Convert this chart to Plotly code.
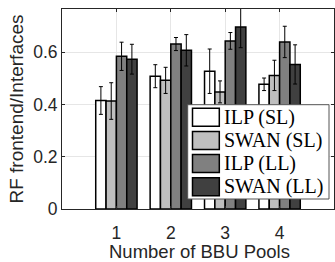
import plotly.graph_objects as go

pools = [1, 2, 3, 4]
series_names = ["ILP (SL)", "SWAN (SL)", "ILP (LL)", "SWAN (LL)"]
series_colors = ["#ffffff", "#bfbfbf", "#808080", "#404040"]
values = [
    [0.415, 0.508, 0.527, 0.477],
    [0.413, 0.492, 0.448, 0.511],
    [0.584, 0.631, 0.643, 0.639],
    [0.573, 0.607, 0.696, 0.553],
]
errors = [
    [0.053, 0.044, 0.085, 0.024],
    [0.070, 0.050, 0.042, 0.058],
    [0.054, 0.025, 0.032, 0.060],
    [0.057, 0.060, 0.079, 0.075],
]
y_ticks = [0, 0.2, 0.4, 0.6]
y_tick_labels = ["0", "0.2", "0.4", "0.6"]
x_title = "Number of BBU Pools"
y_title = "RF frontend/Interfaces"

W, H = 335, 262
ML, MR, MT, MB = 62, 1, 9, 53
PW, PH = W - ML - MR, H - MT - MB

def px(x):
    return (x - ML) / PW

def py(y):
    return (H - MB - y) / PH

fig = go.Figure()
for name, color, vals, errs in zip(series_names, series_colors, values, errors):
    fig.add_trace(go.Bar(
        x=pools, y=vals, name=name,
        marker=dict(color=color, line=dict(color="#000000", width=1.5)),
        error_y=dict(type="data", array=errs, color="#000000", thickness=1, width=2),
        showlegend=False,
    ))

# manual legend (box + swatches + labels)
shapes = [dict(type="rect", xref="paper", yref="paper",
               x0=px(187.7), x1=px(329), y0=py(199), y1=py(104.7),
               fillcolor="#ffffff", line=dict(color="#555555", width=1), layer="above")]
annotations = []
row0, dy = 117.2, 23.2
for i, (name, color) in enumerate(zip(series_names, series_colors)):
    cy = row0 + i * dy
    shapes.append(dict(type="rect", xref="paper", yref="paper",
                       x0=px(192.5), x1=px(219.3), y0=py(cy + 9), y1=py(cy - 9),
                       fillcolor=color, line=dict(color="#000000", width=1.5), layer="above"))
    annotations.append(dict(xref="paper", yref="paper", x=px(221.5), y=py(cy),
                            text=name, showarrow=False, xanchor="left", yanchor="middle",
                            font=dict(family="Liberation Serif", size=20, color="#000000")))

# x-axis title placed below the tick labels
annotations.append(dict(xref="paper", yref="paper", x=px(199.2), y=py(251.5),
                        text=x_title, showarrow=False, xanchor="center", yanchor="middle",
                        font=dict(family="Liberation Sans, Arial", size=18.5, color="#262626")))

axis_common = dict(
    showline=True, linecolor="#262626", linewidth=1, mirror="ticks",
    ticks="inside", ticklen=3, tickcolor="#262626",
    showgrid=True, gridcolor="#e6e6e6", gridwidth=1, zeroline=False,
    automargin=False,
    tickfont=dict(family="Liberation Sans, Arial", size=17.5, color="#262626"),
)

fig.update_layout(
    width=W, height=H,
    margin=dict(l=ML, r=MR, t=MT, b=MB, pad=0),
    paper_bgcolor="#ffffff", plot_bgcolor="#ffffff",
    barmode="group", bargap=0.24, bargroupgap=0,
    shapes=shapes, annotations=annotations,
    xaxis=dict(range=[0, 5], tickvals=pools, ticktext=[str(p) for p in pools],
               ticklabelstandoff=8,
               **axis_common),
    yaxis=dict(range=[0, 0.765], tickvals=y_ticks, ticktext=y_tick_labels,
               title=dict(text=y_title, standoff=4,
                          font=dict(family="Liberation Sans, Arial", size=19, color="#262626")),
               **axis_common),
)

fig.write_html("out.html", config={"displayModeBar": False},
               post_script="document.body.style.margin='0';document.body.style.overflow='hidden';")
